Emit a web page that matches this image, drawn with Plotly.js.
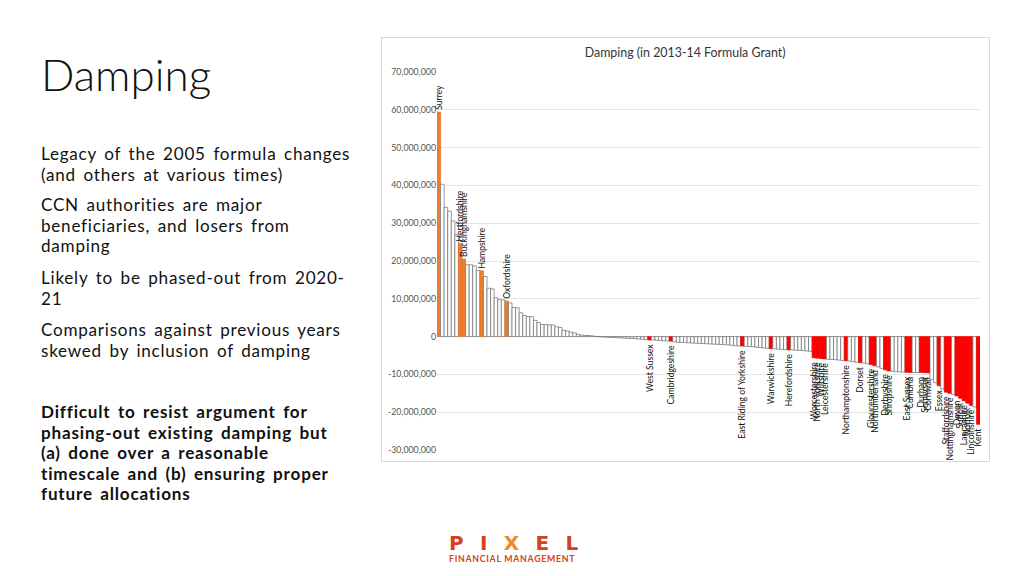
<!DOCTYPE html>
<html>
<head>
<meta charset="utf-8">
<script src="https://cdn.plot.ly/plotly-3.0.1.min.js"></script>
<style>
  html, body { margin: 0; padding: 0; background: #ffffff; }
  #slide { position: relative; width: 1024px; height: 576px; overflow: hidden; font-family: "Lato", "Open Sans", sans-serif; color: #111; }
  .title { position: absolute; left: 41px; top: 54px; font-size: 44px; line-height: 40px; font-weight: 300; color: #111; }
  .para { position: absolute; left: 41px; font-size: 17.1px; line-height: 20.6px; letter-spacing: 0.75px; word-spacing: 2.5px; color: #111; white-space: nowrap; }
  .bold { font-weight: 700; letter-spacing: 0.8px; }
  #frame { position: absolute; left: 381px; top: 37px; width: 607px; height: 423px; border: 1px solid #d9d9d9; }
  #chart { position: absolute; left: 0; top: 0; width: 1024px; height: 576px; }
  .logo { position: absolute; left: 449px; top: 533px; width: 150px; text-align: left; color: #d8401c; }
  .logo .big { font-size: 20px; letter-spacing: 16.3px; line-height: 20px; font-family: "DejaVu Sans", sans-serif; font-weight: 700; }
  .logo .big .x { color: #f08a24; }
  .logo .small { font-size: 8.8px; letter-spacing: 0.7px; line-height: 10px; font-weight: 700; font-family: "Lato", sans-serif; margin-top: 1px; }
</style>
</head>
<body>
<div id="slide">
  <div id="frame"></div>
  <div class="title">Damping</div>
  <div class="para" style="top:144px">Legacy of the 2005 formula changes<br>(and others at various times)</div>
  <div class="para" style="top:195px">CCN authorities are major<br>beneficiaries, and losers from<br>damping</div>
  <div class="para" style="top:268px">Likely to be phased-out from 2020-<br>21</div>
  <div class="para" style="top:320px">Comparisons against previous years<br>skewed by inclusion of damping</div>
  <div class="para bold" style="top:402px">Difficult to resist argument for<br>phasing-out existing damping but<br>(a) done over a reasonable<br>timescale and (b) ensuring proper<br>future allocations</div>
  <div class="logo"><div class="big">PI<span class="x">X</span>EL</div><div class="small">FINANCIAL MANAGEMENT</div></div>
  <div id="chart"></div>
</div>
<script>
// Damping per authority (in £), ranked from largest gain to largest loss
const dampingValues = [
  59.4e6, 40.3e6, 34.2e6, 33.2e6, 30.6e6, 27.1e6, 24.6e6, 20.5e6, 19.0e6, 19.0e6,
  18.7e6, 17.5e6, 17.4e6, 15.9e6, 12.8e6, 12.6e6, 10.3e6, 9.8e6, 9.7e6, 9.4e6,
  8.9e6, 7.7e6, 7.6e6, 6.3e6, 5.6e6, 5.3e6, 5.3e6, 4.3e6, 3.7e6, 3.2e6,
  3.2e6, 3.1e6, 3.1e6, 2.6e6, 2.4e6, 1.7e6, 1.5e6, 1.2e6, 1.0e6, 0.6e6,
  0.4e6, 0.3e6, 0.3e6, 0.2e6, 0.05e6, -0.05e6, -0.1e6, -0.15e6, -0.2e6, -0.25e6,
  -0.3e6, -0.35e6, -0.4e6, -0.45e6, -0.5e6, -0.55e6, -0.65e6, -0.7e6, -0.8e6, -0.9e6,
  -0.9e6, -0.95e6, -1.0e6, -1.1e6, -1.15e6, -1.2e6, -1.4e6, -1.5e6, -1.55e6, -1.6e6,
  -1.65e6, -1.7e6, -1.75e6, -1.8e6, -1.85e6, -1.9e6, -1.95e6, -2.0e6, -2.05e6, -2.1e6,
  -2.15e6, -2.2e6, -2.3e6, -2.4e6, -2.45e6, -2.5e6, -2.6e6, -2.65e6, -2.7e6, -2.8e6,
  -2.9e6, -3.0e6, -3.1e6, -3.2e6, -3.25e6, -3.3e6, -3.4e6, -3.45e6, -3.5e6, -3.55e6,
  -3.6e6, -3.65e6, -3.7e6, -3.8e6, -3.9e6, -5.6e6, -5.7e6, -5.8e6, -5.9e6, -6.0e6,
  -6.05e6, -6.1e6, -6.2e6, -6.3e6, -6.4e6, -6.5e6, -6.6e6, -6.8e6, -6.9e6, -7.0e6,
  -7.2e6, -7.4e6, -7.7e6, -8.0e6, -8.4e6, -8.8e6, -9.1e6, -9.2e6, -9.3e6, -9.35e6,
  -9.4e6, -9.45e6, -9.5e6, -9.5e6, -9.5e6, -9.5e6, -9.55e6, -9.6e6, -11.3e6, -12.2e6,
  -13.0e6, -13.8e6, -14.7e6, -15.0e6, -15.3e6, -15.7e6, -16.3e6, -17.0e6, -17.6e6, -18.2e6,
  -18.6e6, -23.2e6
];

// Named (county) authorities and their position in the ranking (0-based)
const labelNames = [
  "Surrey", "Hertfordshire", "Buckinghamshire", "Hampshire", "Oxfordshire",
  "West Sussex", "Cambridgeshire", "East Riding of Yorkshire", "Warwickshire", "Herefordshire",
  "Worcestershire", "North Yorkshire", "Wiltshire", "Leicestershire", "Northamptonshire",
  "Dorset", "Gloucestershire", "Northumberland", "Derbyshire", "Shropshire",
  "East Sussex", "Cumbria", "Durham", "Somerset", "Cornwall",
  "Essex", "Staffordshire", "Nottinghamshire", "Devon", "Suffolk",
  "Lancashire", "Norfolk", "Lincolnshire", "Kent"
];
const labelRanks = [
  0, 6, 7, 12, 19,
  59, 65, 85, 93, 98,
  105, 106, 107, 108, 114,
  118, 121, 122, 125, 126,
  131, 132, 135, 136, 137,
  140, 142, 143, 145, 146,
  147, 148, 149, 151
];

const yTickVals = [70e6, 60e6, 50e6, 40e6, 30e6, 20e6, 10e6, 0, -10e6, -20e6, -30e6];
const yTickText = ["70,000,000", "60,000,000", "50,000,000", "40,000,000", "30,000,000", "20,000,000", "10,000,000", "0", "-10,000,000", "-20,000,000", "-30,000,000"];

const chartTitle = "Damping (in 2013-14 Formula Grant)";

// Build per-bar arrays
const ranks = dampingValues.map((v, i) => i + 1);
const texts = dampingValues.map(() => "");
const fills = dampingValues.map(() => "#ffffff");
const outlines = dampingValues.map(() => "#6b6b6b");
labelRanks.forEach((r, k) => {
  if (dampingValues[r] > 0) {
    texts[r] = "\u00a0" + labelNames[k];
    fills[r] = "#ED7D31"; outlines[r] = "#E07020";
  } else {
    texts[r] = labelNames[k] + "\u00a0\u00a0";
    fills[r] = "#FF0000"; outlines[r] = "#F00000";
  }
});

const trace = {
  type: "bar",
  x: ranks,
  y: dampingValues,
  text: texts,
  textposition: "outside",
  textangle: -90,
  constraintext: "none",
  cliponaxis: false,
  textfont: { family: "Lato, 'Open Sans', sans-serif", size: 8.6, color: "#111111" },
  marker: { color: fills, line: { color: outlines, width: 0.7 } },
  hoverinfo: "none"
};

const layout = {
  width: 1024,
  height: 576,
  margin: { l: 437, r: 44, t: 72, b: 126, pad: 0 },
  paper_bgcolor: "rgba(0,0,0,0)",
  plot_bgcolor: "rgba(0,0,0,0)",
  bargap: 0,
  showlegend: false,
  title: {
    text: chartTitle,
    font: { family: "Lato, 'Open Sans', sans-serif", size: 12.4, color: "#333333" },
    x: 0.457, xref: "paper", xanchor: "center",
    y: 1 - 53 / 576, yref: "container", yanchor: "middle"
  },
  xaxis: {
    range: [0.5, dampingValues.length + 0.5],
    showticklabels: false, showgrid: false, zeroline: false, ticks: "", showline: false
  },
  yaxis: {
    range: [-30e6, 70e6],
    tickvals: yTickVals,
    ticktext: yTickText,
    tickfont: { family: "Lato, 'Open Sans', sans-serif", size: 8.8, color: "#555555" },
    showgrid: true, gridcolor: "#dedede", gridwidth: 0.8,
    zeroline: true, zerolinecolor: "#cfcfcf", zerolinewidth: 0.8,
    ticks: "", ticklen: 0, showline: false,
    automargin: false
  },
  font: { family: "Lato, 'Open Sans', sans-serif" }
};

Plotly.newPlot("chart", [trace], layout, { staticPlot: true, displayModeBar: false });
</script>
</body>
</html>
